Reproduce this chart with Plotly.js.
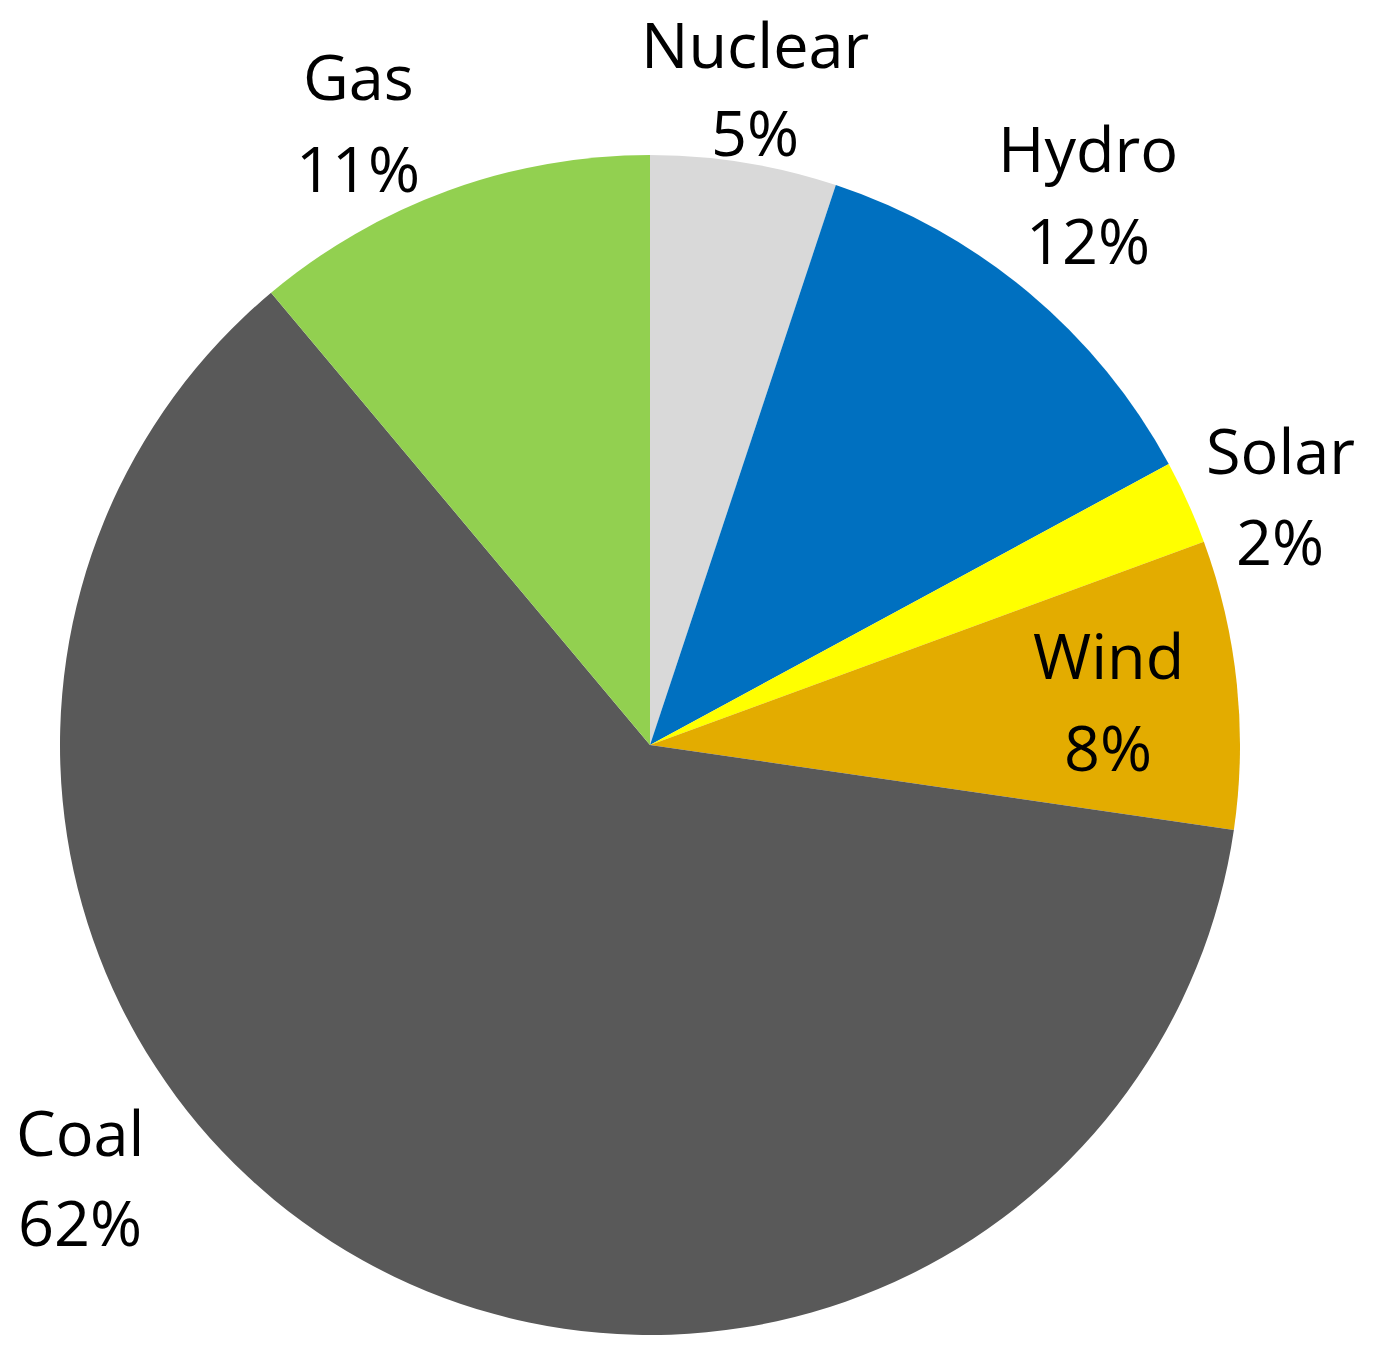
<!DOCTYPE html>
<html>
<head>
<meta charset="utf-8">
<script src="https://cdn.plot.ly/plotly-3.0.1.min.js"></script>
<style>
	html, body { margin: 0; padding: 0; background: #fff; }
	#chart { width: 1375px; height: 1353px; }
</style>
</head>
<body>
<div id="chart"></div>
<script>
(function () {

	'use strict';

	// slices, clockwise from 12 o'clock
	const sources = ['Nuclear', 'Hydro', 'Solar', 'Wind', 'Coal', 'Gas'];
	const shares = [5.1, 12.0, 2.3, 7.9, 61.6, 11.1];
	const shareLabels = ['5%', '12%', '2%', '8%', '62%', '11%'];
	const sliceColors = ['#D9D9D9', '#0070C0', '#FFFF00', '#E3AC00', '#595959', '#92D050'];

	const W = 1375, H = 1353;

	// label placement (pixel centres of name line / percent line)
	const labelPos = {
		Nuclear: { x: 755, y1: 44, y2: 132 },
		Hydro:   { x: 1088, y1: 147, y2: 239 },
		Solar:   { x: 1280, y1: 450, y2: 540 },
		Wind:    { x: 1108, y1: 654, y2: 746 },
		Coal:    { x: 80,  y1: 1131, y2: 1221 },
		Gas:     { x: 358, y1: 76,  y2: 168 },
	};

	const font = { family: '"Open Sans", "Noto Sans", sans-serif', size: 63, color: '#000' };

	const px = ( x ) => x / W;
	const py = ( y ) => 1 - y / H;

	/**
	* two annotations per slice: name + percentage
	*/
	const annotations = [];
	sources.forEach(( name, i ) => {
		const p = labelPos[ name ];
		[[ name, p.y1 ], [ shareLabels[i], p.y2 ]].forEach(([ text, y ]) => {
			annotations.push({
				text,
				x: px( p.x ),
				y: py( y ),
				xref: 'paper',
				yref: 'paper',
				xanchor: 'center',
				yanchor: 'middle',
				borderpad: 0,
				showarrow: false,
				font,
			});
		});
	});

	// pie centre (650,745), radius 590
	const cx = 650, cy = 745, r = 590;

	const trace = {
		type: 'pie',
		labels: sources,
		values: shares,
		sort: false,
		direction: 'clockwise',
		rotation: 0,
		textinfo: 'none',
		hoverinfo: 'label+percent',
		marker: { colors: sliceColors, line: { width: 0 } },
		domain: {
			x: [ px( cx - r ), px( cx + r ) ],
			y: [ py( cy + r ), py( cy - r ) ],
		},
	};

	const layout = {
		width: W,
		height: H,
		margin: { l: 0, r: 0, t: 0, b: 0 },
		paper_bgcolor: '#fff',
		showlegend: false,
		annotations,
	};

	Plotly.newPlot('chart', [ trace ], layout, { displayModeBar: false, staticPlot: true });

})();
</script>
</body>
</html>
